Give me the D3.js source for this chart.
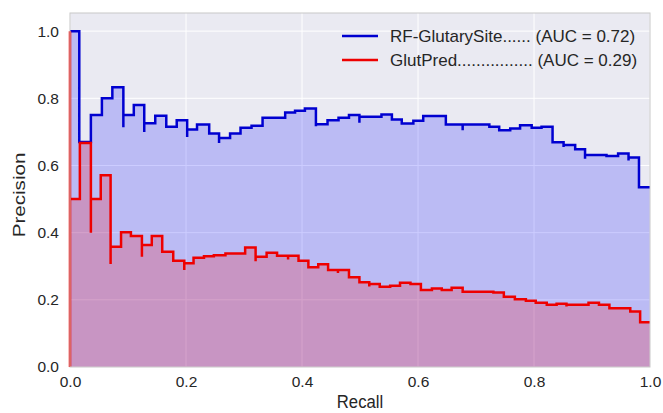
<!DOCTYPE html>
<html>
<head>
<meta charset="utf-8">
<script src="https://cdn.jsdelivr.net/npm/d3@7"></script>
<style>
  body { margin: 0; background: #ffffff; }
  text { font-family: "Liberation Sans", Arial, sans-serif; }
</style>
</head>
<body>
<svg id="chart" width="663" height="413"></svg>
<script>
// precision-recall steps, duplicate recall = vertical spike
const blueRecall = [0, 0.016, 0.036, 0.055, 0.073, 0.092, 0.092, 0.110, 0.128, 0.128, 0.147, 0.166, 0.184, 0.202, 0.202,
    0.219, 0.240, 0.257, 0.257, 0.276, 0.294, 0.313, 0.332, 0.371, 0.388, 0.405, 0.424, 0.424, 0.444, 0.463, 0.481,
    0.499, 0.499, 0.537, 0.555, 0.572, 0.592, 0.609, 0.648, 0.677, 0.677, 0.723, 0.740, 0.759, 0.776, 0.796, 0.813,
    0.832, 0.851, 0.851, 0.871, 0.888, 0.888, 0.925, 0.945, 0.963, 0.963, 0.981, 1.0];
const bluePrecision = [1.0, 0.67, 0.75, 0.80, 0.833, 0.714, 0.75, 0.78, 0.70, 0.726, 0.748, 0.715, 0.735, 0.685, 0.707,
    0.722, 0.695, 0.667, 0.682, 0.695, 0.712, 0.718, 0.742, 0.758, 0.763, 0.770, 0.717, 0.723, 0.735, 0.742, 0.75,
    0.727, 0.745, 0.752, 0.737, 0.725, 0.733, 0.747, 0.722, 0.705, 0.722, 0.715, 0.705, 0.710, 0.720, 0.712, 0.715,
    0.669, 0.655, 0.661, 0.648, 0.620, 0.631, 0.628, 0.636, 0.615, 0.624, 0.535, 0.535];

const redRecall = [0, 0, 0, 0.017, 0.036, 0.036, 0.053, 0.070, 0.070, 0.088, 0.105, 0.124, 0.124, 0.141, 0.159, 0.178,
    0.197, 0.197, 0.213, 0.231, 0.248, 0.268, 0.302, 0.320, 0.320, 0.339, 0.357, 0.376, 0.376, 0.394, 0.411, 0.428,
    0.445, 0.462, 0.462, 0.481, 0.499, 0.516, 0.516, 0.534, 0.552, 0.569, 0.587, 0.605, 0.624, 0.641, 0.658, 0.677,
    0.730, 0.748, 0.767, 0.786, 0.803, 0.822, 0.839, 0.856, 0.856, 0.894, 0.912, 0.930, 0.966, 0.983, 1.0];
const redPrecision = [0, 1.0, 0.5, 0.667, 0.40, 0.50, 0.571, 0.307, 0.358, 0.401, 0.390, 0.328, 0.363, 0.390, 0.343, 0.316,
    0.289, 0.309, 0.325, 0.330, 0.333, 0.338, 0.356, 0.315, 0.328, 0.340, 0.331, 0.320, 0.331, 0.316, 0.297, 0.306,
    0.289, 0.280, 0.289, 0.267, 0.252, 0.240, 0.247, 0.239, 0.242, 0.251, 0.247, 0.229, 0.234, 0.229, 0.236, 0.224,
    0.222, 0.209, 0.202, 0.197, 0.191, 0.185, 0.188, 0.180, 0.185, 0.191, 0.185, 0.175, 0.165, 0.133, 0.133];

const seriesNames = ["RF-GlutarySite...... (AUC = 0.72)", "GlutPred................ (AUC = 0.29)"];
const seriesColors = ["#0000d0", "#ee0000"];
const fillColors = ["#0000ff", "#ff0000"];
const tickValues = [0, 0.2, 0.4, 0.6, 0.8, 1.0];

const svg = d3.select("#chart");
const margin = { top: 13, right: 13, bottom: 46, left: 70 };
const width = 663 - margin.left - margin.right;
const height = 413 - margin.top - margin.bottom;

const x = d3.scaleLinear().domain([0, 1]).range([0, width]);
const y = d3.scaleLinear().domain([0, 1.054]).range([height, 0]);

const g = svg.append("g")
    .attr("transform", "translate(" + margin.left + "," + margin.top + ")");

g.append("rect")
    .attr("width", width)
    .attr("height", height)
    .attr("fill", "#eaeaf2");

// grid
g.selectAll(".vgrid")
    .data(tickValues)
    .enter()
    .append("line")
    .attr("x1", d => x(d)).attr("x2", d => x(d))
    .attr("y1", 0).attr("y2", height)
    .attr("stroke", "#ffffff")
    .attr("stroke-width", 1);

g.selectAll(".hgrid")
    .data(tickValues)
    .enter()
    .append("line")
    .attr("x1", 0).attr("x2", width)
    .attr("y1", d => y(d)).attr("y2", d => y(d))
    .attr("stroke", "#ffffff")
    .attr("stroke-width", 1);

const series = [
    d3.zip(blueRecall, bluePrecision),
    d3.zip(redRecall, redPrecision)
];

const area = d3.area()
    .curve(d3.curveStepAfter)
    .x(d => x(d[0]))
    .y0(y(0))
    .y1(d => y(d[1]));

const line = d3.line()
    .curve(d3.curveStepAfter)
    .x(d => x(d[0]))
    .y(d => y(d[1]));

series.forEach((pts, i) => {
    g.append("path")
        .attr("d", area(pts))
        .attr("fill", fillColors[i])
        .attr("fill-opacity", 0.2);
});

series.forEach((pts, i) => {
    g.append("path")
        .attr("d", line(pts))
        .attr("fill", "none")
        .attr("stroke", seriesColors[i])
        .attr("stroke-width", 2.5);
});

g.append("rect")
    .attr("width", width)
    .attr("height", height)
    .attr("fill", "none")
    .attr("stroke", "#c8c8c8")
    .attr("stroke-width", 1);

// axes
const xAxis = g.append("g")
    .attr("transform", "translate(0," + height + ")")
    .call(d3.axisBottom(x).tickValues(tickValues).tickFormat(d3.format(".1f")).tickSize(0).tickPadding(9));
const yAxis = g.append("g")
    .call(d3.axisLeft(y).tickValues(tickValues).tickFormat(d3.format(".1f")).tickSize(0).tickPadding(11));

[xAxis, yAxis].forEach(ax => {
    ax.select(".domain").remove();
    ax.selectAll("text")
        .attr("fill", "#262626")
        .style("font-size", "15.5px");
});

g.append("text")
    .attr("transform", "translate(" + (width / 2) + "," + (height + 41) + ") scale(1,1.12)")
    .attr("text-anchor", "middle")
    .attr("fill", "#262626")
    .style("font-size", "16.7px")
    .text("Recall");

g.append("text")
    .attr("transform", "translate(-45,182) rotate(-90) scale(1.25,1)")
    .attr("text-anchor", "middle")
    .attr("fill", "#262626")
    .style("font-size", "16.5px")
    .text("Precision");

// legend
const legend = g.append("g")
    .attr("transform", "translate(272,23)");

seriesNames.forEach((name, i) => {
    legend.append("line")
        .attr("x1", 0).attr("x2", 36)
        .attr("y1", i * 24).attr("y2", i * 24)
        .attr("stroke", seriesColors[i])
        .attr("stroke-width", 2.5);
    legend.append("text")
        .attr("x", 48)
        .attr("y", i * 24)
        .attr("dy", "0.36em")
        .attr("fill", "#262626")
        .style("font-size", "17px")
        .text(name);
});
</script>
</body>
</html>
